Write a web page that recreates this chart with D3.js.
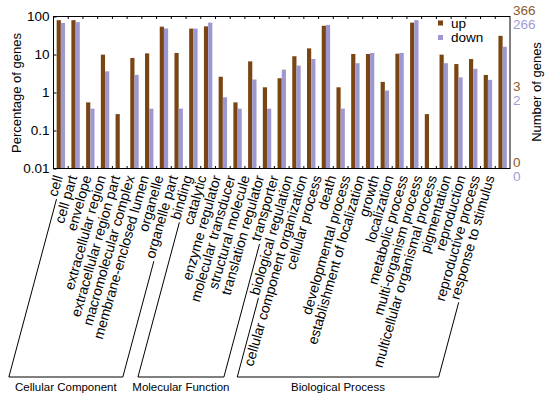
<!DOCTYPE html>
<html><head><meta charset="utf-8">
<script src="https://cdn.jsdelivr.net/npm/d3@7"></script>
<style>body{margin:0;background:#fff}svg{display:block}text{font-family:"Liberation Sans",Arial,sans-serif}</style>
</head><body><svg id="c" width="550" height="399"></svg>
<script>
const categories = ["cell","cell part","envelope","extracellular region","extracellular region part","macromolecular complex","membrane-enclosed lumen","organelle","organelle part","binding","catalytic","enzyme regulator","molecular transducer","structural molecule","translation regulator","transporter","biological regulation","cellular component organization","cellular process","death","developmental process","establishment of localization","growth","localization","metabolic process","multi-organism process","multicellular organismal process","pigmentation","reproduction","reproductive process","response to stimulus"];
const upValues = [80,80,0.55,9.9,0.27,8.1,10.7,54,11,48,55,2.6,0.55,6.6,1.37,2.37,9.0,14.5,57,1.37,10.3,10.3,1.9,10.5,69,0.27,9.9,5.6,7.6,2.9,31];
const downValues = [68,71,0.376,3.6,null,2.9,0.376,48.5,0.376,48,69,0.75,0.376,2.2,0.376,4.0,5.1,7.6,60,0.376,5.9,11,1.13,11,80,null,5.9,2.5,4.2,2.15,16];
const groups = [{name:"Cellular Component",first:0,last:8},{name:"Molecular Function",first:9,last:15},{name:"Biological Process",first:16,last:30}];
const leftTicks = [100,10,1,0.1,0.01];
const leftTickLabels = ["100","10","1","0.1","0.01"];
const rightUpTicks = [100,1,0.01];
const rightUpLabels = ["366","3","0"];
const rightDownTicks = [100,1,0.01];
const rightDownLabels = ["266","2","0"];
const seriesNames = ["up","down"];

const upColor = "#7a4514", downColor = "#9d98d0";
const upText = "#8b5a2b", downText = "#a09cd6";
const svg = d3.select("#c");
const m = {l:53.5, r:510, t:16.5, b:168.5};
const x = d3.scaleBand().domain(categories).range([m.l, m.r]);
const y = d3.scaleLog().domain([0.01,100]).range([m.b, m.t]);
const bw = 4.2;
const cx = d => x(d) + x.bandwidth()/2;
const lx = d3.scalePoint().domain(categories).range([cx(categories[0]) + 2, cx(categories[categories.length-1]) - 8]);

const g = svg.append("g");
g.selectAll("rect.up").data(categories).join("rect")
  .attr("x", d => cx(d) - bw)
  .attr("width", bw)
  .attr("y", (d,i) => y(upValues[i]))
  .attr("height", (d,i) => y(0.01) - y(upValues[i]))
  .attr("fill", upColor);
g.selectAll("rect.down").data(categories.filter((d,i)=>downValues[i]!=null)).join("rect")
  .attr("x", d => cx(d))
  .attr("width", bw)
  .attr("y", d => y(downValues[categories.indexOf(d)]))
  .attr("height", d => y(0.01) - y(downValues[categories.indexOf(d)]))
  .attr("fill", downColor);

svg.append("rect").attr("x", m.l).attr("y", m.t).attr("width", m.r-m.l).attr("height", m.b-m.t)
  .attr("fill","none").attr("stroke","#000").attr("stroke-width",1);

const la = d3.axisLeft(y).tickValues(leftTicks).tickFormat((d,i)=>leftTickLabels[i]).tickSize(-3).tickPadding(4);
const lag = svg.append("g").attr("transform",`translate(${m.l},0)`).call(la);
lag.select(".domain").remove();
lag.selectAll("text").attr("font-size",13.5).attr("fill","#000").attr("font-family","Liberation Sans, Arial");

const bounds = categories.slice(1).map(c => x(c));
svg.selectAll("line.tt").data(bounds).join("line").attr("x1",d=>d).attr("x2",d=>d).attr("y1",m.t).attr("y2",m.t+2.5).attr("stroke","#000");
svg.selectAll("line.tb").data(bounds).join("line").attr("x1",d=>d).attr("x2",d=>d).attr("y1",m.b).attr("y2",m.b-2.5).attr("stroke","#000");

svg.selectAll("text.ru").data(rightUpTicks).join("text").attr("x", m.r+3).attr("y", d=>y(d)-1.5)
  .text((d,i)=>rightUpLabels[i]).attr("font-size",13.5).attr("fill",upText);
svg.selectAll("text.rd").data(rightDownTicks).join("text").attr("x", m.r+3).attr("y", d=>y(d)+12.5)
  .text((d,i)=>rightDownLabels[i]).attr("font-size",13.5).attr("fill",downText);

svg.append("text").attr("transform",`translate(21,93) rotate(-90)`).attr("text-anchor","middle")
  .attr("font-size",13).text("Percentage of genes");
svg.append("text").attr("transform",`translate(541,92) rotate(-90)`).attr("text-anchor","middle")
  .attr("font-size",13).text("Number of genes");

const leg = svg.append("g").attr("transform","translate(438,0)");
seriesNames.forEach((s,i)=>{
  leg.append("rect").attr("x",0).attr("y",23+i*14.5-2.5).attr("width",5).attr("height",5).attr("fill",i?downColor:upColor);
  leg.append("text").attr("x",13).attr("y",23+i*14.5+4.5).attr("font-size",13.5).text(s);
});

const ang = -74, rad = ang*Math.PI/180;
const labelY = 177;
const starts = {};
svg.selectAll("text.cat").data(categories).join("text")
  .attr("class","cat")
  .attr("text-anchor","end")
  .attr("font-size",14)
  .attr("transform", d => `translate(${lx(d)},${labelY}) rotate(${ang})`)
  .text(d=>d)
  .each(function(d){
    const L = this.getComputedTextLength();
    const x0 = lx(d), y0 = labelY;
    starts[d] = [x0 - Math.cos(rad)*(L+2), y0 - Math.sin(rad)*(L+2)];
  });

const baseY = 377, slope = Math.tan(15*Math.PI/180);
groups.forEach(gr => {
  const a = starts[categories[gr.first]], b = starts[categories[gr.last]];
  const ax = a[0] - slope*(baseY - a[1]), bx = b[0] - slope*(baseY - b[1]);
  svg.append("path").attr("d", `M${a[0]},${a[1]}L${ax},${baseY}L${bx},${baseY}L${b[0]},${b[1]}`)
    .attr("fill","none").attr("stroke","#000").attr("stroke-width",1);
  svg.append("text").attr("x",(ax+bx)/2).attr("y",391).attr("text-anchor","middle").attr("font-size",11.5).text(gr.name);
});
</script></body></html>
